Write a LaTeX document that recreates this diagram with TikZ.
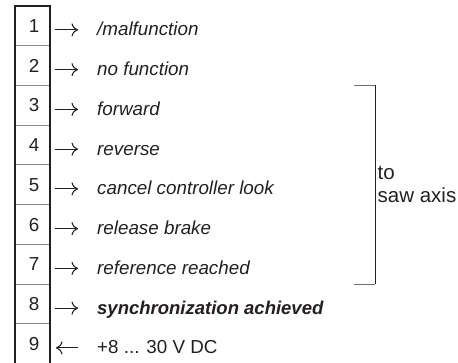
\documentclass[tikz,border=0pt]{standalone}
\usepackage{fontspec}
\setmainfont{Liberation Sans}
\usetikzlibrary{arrows.meta}
\definecolor{ink}{HTML}{231F20}
\definecolor{sepgray}{HTML}{8C8C8C}
\begin{document}
\begin{tikzpicture}[x=1pt,y=-1pt,
  cell/.style={draw=sepgray, line width=1pt, outer sep=0pt, inner sep=0pt,
    minimum width=35pt, minimum height=39.75pt, text=ink,
    font=\fontsize{18.8}{22}\selectfont},
  lbl/.style={anchor=base west, inner sep=0pt, text=ink,
    font=\fontsize{18.8}{22}\selectfont\itshape},
  tip/.style={-{To[length=6.5pt,width=13pt]}},
  outarrow/.style={tip, line width=1.1pt, draw=ink,
    shorten <=5pt, shorten >=19pt},
  inarrow/.style={tip, line width=1.1pt, draw=ink,
    shorten <=19pt, shorten >=6pt},
  frame/.style={line width=1.8pt, draw=ink},
  brackettick/.style={line width=1pt, draw=sepgray!80!black},
  bracketbar/.style={line width=1pt, draw=ink},
]
\useasboundingbox (0,0) rectangle (458,363);

% terminal strip: nine cells
\foreach \i in {1,...,9}
  \node[cell] (c\i) at (32.5, {6+(\i-0.5)*39.75}) {\hspace*{3pt}\i};
\draw[frame] (c9.south west) -- (c1.north west) -- (c1.north east) -- (c9.south east);

% signal names, baseline 10pt below the cell centre
\node[lbl] (l1) at (97, {6+0.5*39.75+10}) {/malfunction};
\foreach \i/\txt in {2/no function, 3/forward, 4/reverse,
    5/cancel controller look, 6/release brake, 7/reference reached}
  \node[lbl] (l\i) at (97, {6+(\i-0.5)*39.75+10}) {\txt};
\node[lbl, font=\fontsize{18.5}{22}\selectfont\bfseries\itshape] (l8)
  at (97, {6+7.5*39.75+10}) {synchronization achieved};
\node[lbl, font=\fontsize{18.8}{22}\selectfont] (l9)
  at (97, {6+8.5*39.75+10}) {+8 ... 30 V DC};

% direction arrows
\foreach \i in {1,...,8}
  \draw[outarrow] ([yshift=-4pt]c\i.east) -- ([yshift=-4pt]c\i.east -| l\i.west);
\draw[inarrow] ([yshift=-4pt]c9.east -| l9.west) -- ([yshift=-4pt]c9.east);

% bracket grouping terminals 3 to 7
\coordinate (bx) at (375,0);
\coordinate (bt) at (c3.north -| bx);
\coordinate (bb) at (c7.south -| bx);
\draw[brackettick] ([xshift=-21pt]bt) -- (bt);
\draw[bracketbar] (bt) -- (bb);
\draw[brackettick] (bb) -- ([xshift=-21pt]bb);
\node[anchor=west, align=left, inner sep=0pt, text=ink,
  font=\fontsize{20.5}{23}\selectfont] (dest)
  at ([xshift=2.5pt]c5.center -| bx) {to\\saw axis};
\end{tikzpicture}
\end{document}
